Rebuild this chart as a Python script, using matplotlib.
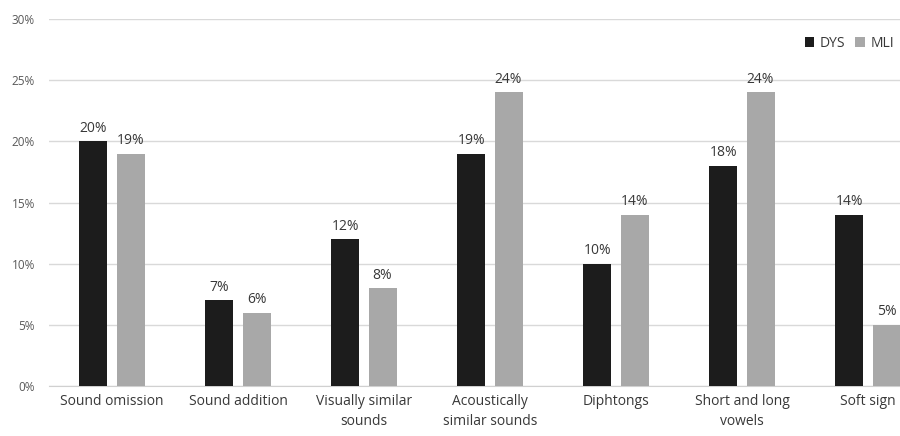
import matplotlib.pyplot as plt
import numpy as np

categories = ["Sound omission", "Sound addition", "Visually similar\nsounds",
              "Acoustically\nsimilar sounds", "Diphtongs", "Short and long\nvowels",
              "Soft sign"]
dys = [20, 7, 12, 19, 10, 18, 14]
mli = [19, 6, 8, 24, 14, 24, 5]
series_names = ["DYS", "MLI"]

plt.rcParams['font.family'] = ['Open Sans', 'DejaVu Sans']

fig = plt.figure(figsize=(9, 4.36), dpi=100)
# plot area runs past the right edge of the figure
ax = fig.add_axes([49 / 900, 50 / 436, 882 / 900, 367 / 436])

x = np.arange(len(categories))
w = 0.222
off = 0.147
b1 = ax.bar(x - off, dys, w, color="#1c1c1c", label=series_names[0], zorder=3)
b2 = ax.bar(x + off, mli, w, color="#a8a8a8", label=series_names[1], zorder=3)

for bars, vals in ((b1, dys), (b2, mli)):
    for r, v in zip(bars, vals):
        ax.text(r.get_x() + r.get_width() / 2, v + 0.45, f"{v}%", ha="center",
                va="bottom", fontsize=10, color="#383838")

ax.set_xlim(-0.5, len(categories) - 0.5)
ax.set_ylim(0, 30)
ax.set_yticks(range(0, 31, 5))
ax.set_yticklabels([f"{t}%" for t in range(0, 31, 5)])
ax.set_xticks(x)
ax.set_xticklabels(categories, fontsize=10, color="#383838", linespacing=1.45)
ax.tick_params(axis="y", length=0, labelsize=8.5, labelcolor="#595959", pad=10)
ax.tick_params(axis="x", length=0, pad=6)
ax.grid(axis="y", color="#d9d9d9", linewidth=1, zorder=0)
for s in ("top", "right", "left"):
    ax.spines[s].set_visible(False)
ax.spines["bottom"].set_color("#d0d0d0")

ax.legend(loc="upper left", bbox_to_anchor=(792 / 900, 413 / 436),
          bbox_transform=fig.transFigure, ncol=2, frameon=False, fontsize=10,
          handlelength=0.7, handleheight=0.7, handletextpad=0.4, columnspacing=0.7,
          labelcolor="#383838")

fig.savefig("out.png", dpi=100)
